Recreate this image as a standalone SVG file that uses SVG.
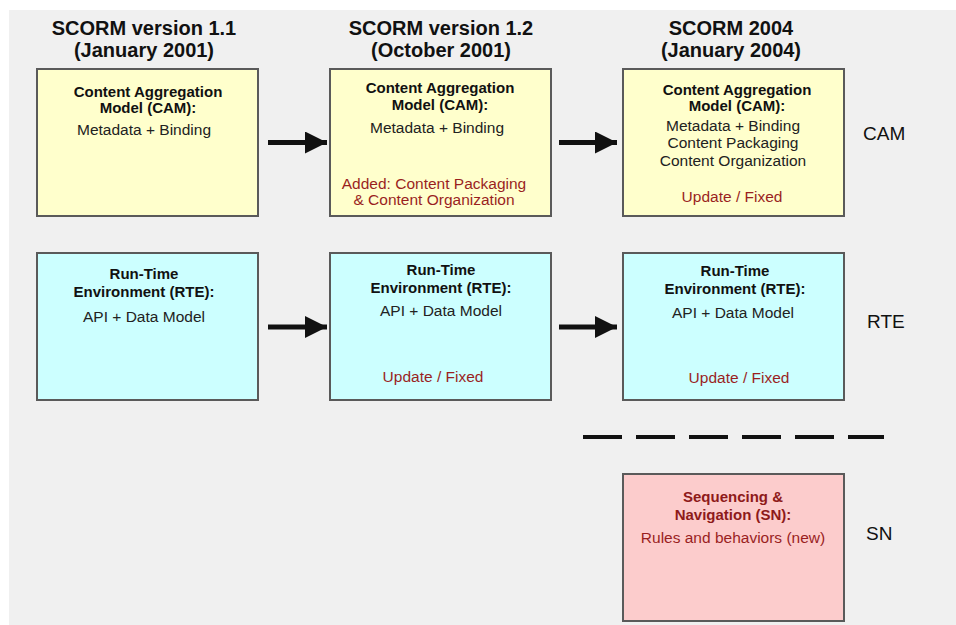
<svg xmlns="http://www.w3.org/2000/svg" width="956" height="625" viewBox="0 0 956 625">
<style>
.hdr{font-family:"Liberation Sans",Arial,sans-serif;font-weight:bold;font-size:20px;fill:#111;text-anchor:middle}
.b{font-family:"Liberation Sans",Arial,sans-serif;font-weight:bold;font-size:15px;fill:#111;text-anchor:middle}
.t{font-family:"Liberation Sans",Arial,sans-serif;font-size:15.5px;fill:#222;text-anchor:middle}
.r{font-family:"Liberation Sans",Arial,sans-serif;font-size:15.5px;fill:#9a1f1f;text-anchor:middle}
.rb{font-family:"Liberation Sans",Arial,sans-serif;font-weight:bold;font-size:15px;fill:#8e1a1a;text-anchor:middle}
.lbl{font-family:"Liberation Sans",Arial,sans-serif;font-size:19px;fill:#111}
.box{stroke:#5a5a5a;stroke-width:2}
.cam{fill:#ffffcc}
.rte{fill:#ccffff}
.sn{fill:#fccccc}
.arr{stroke:#111;stroke-width:5;fill:none}
</style>
<defs>
<marker id="ah" markerUnits="userSpaceOnUse" markerWidth="24" markerHeight="22" refX="22" refY="11" orient="auto">
<path d="M0,0 L22,11 L0,22 Z" fill="#111"/>
</marker>
</defs>
<rect x="0" y="0" width="956" height="625" fill="#ffffff"/>
<rect x="9" y="10" width="947" height="615" fill="#f0f0f0"/>

<g id="headers">
<text class="hdr" x="144" y="35">SCORM version 1.1</text>
<text class="hdr" x="144" y="57">(January 2001)</text>
<text class="hdr" x="441" y="35">SCORM version 1.2</text>
<text class="hdr" x="441" y="57">(October 2001)</text>
<text class="hdr" x="731" y="35">SCORM 2004</text>
<text class="hdr" x="731" y="57">(January 2004)</text>
</g>

<g id="cam1">
<rect class="box cam" x="37" y="69" width="221" height="147"/>
<text class="b" x="148" y="97">Content Aggregation</text>
<text class="b" x="148" y="113">Model (CAM):</text>
<text class="t" x="144" y="135">Metadata + Binding</text>
</g>
<g id="cam2">
<rect class="box cam" x="330" y="69" width="221" height="147"/>
<text class="b" x="440" y="93">Content Aggregation</text>
<text class="b" x="440" y="110">Model (CAM):</text>
<text class="t" x="437" y="133">Metadata + Binding</text>
<text class="r" x="434" y="189">Added: Content Packaging</text>
<text class="r" x="434" y="205">&amp; Content Organization</text>
</g>
<g id="cam3">
<rect class="box cam" x="623" y="69" width="221" height="147"/>
<text class="b" x="737" y="95">Content Aggregation</text>
<text class="b" x="737" y="111">Model (CAM):</text>
<text class="t" x="733" y="131">Metadata + Binding</text>
<text class="t" x="733" y="148">Content Packaging</text>
<text class="t" x="733" y="166">Content Organization</text>
<text class="r" x="732" y="202">Update / Fixed</text>
</g>

<g id="rte1">
<rect class="box rte" x="37" y="253" width="221" height="147"/>
<text class="b" x="144" y="279">Run-Time</text>
<text class="b" x="144" y="297">Environment (RTE):</text>
<text class="t" x="144" y="322">API + Data Model</text>
</g>
<g id="rte2">
<rect class="box rte" x="330" y="253" width="221" height="147"/>
<text class="b" x="441" y="275">Run-Time</text>
<text class="b" x="441" y="293">Environment (RTE):</text>
<text class="t" x="441" y="316">API + Data Model</text>
<text class="r" x="433" y="382">Update / Fixed</text>
</g>
<g id="rte3">
<rect class="box rte" x="623" y="253" width="221" height="147"/>
<text class="b" x="735" y="276">Run-Time</text>
<text class="b" x="735" y="294">Environment (RTE):</text>
<text class="t" x="733" y="318">API + Data Model</text>
<text class="r" x="739" y="383">Update / Fixed</text>
</g>

<g id="sn">
<rect class="box sn" x="623" y="474" width="221" height="147"/>
<text class="rb" x="733" y="502">Sequencing &amp;</text>
<text class="rb" x="733" y="520">Navigation (SN):</text>
<text class="r" x="733" y="543">Rules and behaviors (new)</text>
</g>

<g id="labels">
<text class="lbl" x="863" y="140">CAM</text>
<text class="lbl" x="867" y="328">RTE</text>
<text class="lbl" x="866" y="540">SN</text>
</g>

<g id="connectors">
<line class="arr" x1="268" y1="142.5" x2="327" y2="142.5" marker-end="url(#ah)"/>
<line class="arr" x1="559" y1="142.5" x2="617" y2="142.5" marker-end="url(#ah)"/>
<line class="arr" x1="268" y1="327" x2="327" y2="327" marker-end="url(#ah)"/>
<line class="arr" x1="559" y1="327" x2="617" y2="327" marker-end="url(#ah)"/>
<line x1="583" y1="437" x2="884" y2="437" stroke="#111" stroke-width="4" stroke-dasharray="39 14"/>
</g>
</svg>
